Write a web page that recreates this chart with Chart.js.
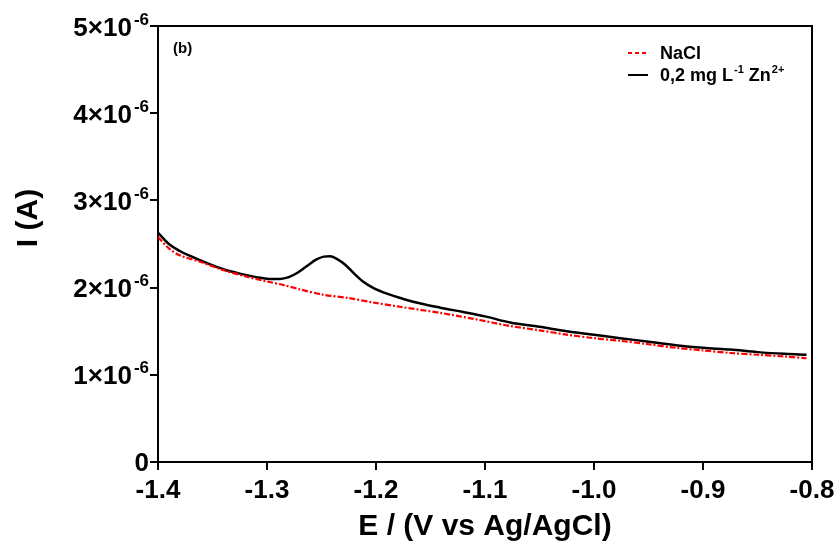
<!DOCTYPE html>
<html><head><meta charset="utf-8">
<script src="https://cdn.jsdelivr.net/npm/chart.js@4.4.1/dist/chart.umd.min.js"></script>
<style>html,body{margin:0;padding:0;background:#fff}#wrap{width:840px;height:542px}</style>
</head><body><div id="wrap"><canvas id="c" width="840" height="542"></canvas></div>
<script>
// Potential (V vs Ag/AgCl) and current (A)
const potentialNaCl = [-1.400,-1.390,-1.380,-1.360,-1.340,-1.320,-1.300,-1.285,-1.270,-1.249,-1.225,-1.203,-1.178,-1.141,-1.110,-1.077,-1.050,-1.025,-1.000,-0.976,-0.950,-0.925,-0.900,-0.875,-0.850,-0.825,-0.805];
const currentNaCl = [2.58e-6,2.45e-6,2.37e-6,2.29e-6,2.20e-6,2.13e-6,2.07e-6,2.03e-6,1.98e-6,1.92e-6,1.88e-6,1.83e-6,1.78e-6,1.71e-6,1.64e-6,1.56e-6,1.51e-6,1.46e-6,1.42e-6,1.39e-6,1.35e-6,1.31e-6,1.28e-6,1.25e-6,1.23e-6,1.21e-6,1.19e-6];
const potentialZn = [-1.400,-1.390,-1.380,-1.370,-1.355,-1.340,-1.325,-1.310,-1.298,-1.288,-1.280,-1.272,-1.263,-1.255,-1.248,-1.242,-1.236,-1.228,-1.220,-1.212,-1.203,-1.190,-1.175,-1.160,-1.141,-1.120,-1.100,-1.077,-1.050,-1.025,-1.000,-0.976,-0.950,-0.925,-0.900,-0.875,-0.850,-0.825,-0.805];
const currentZn = [2.63e-6,2.50e-6,2.42e-6,2.36e-6,2.28e-6,2.21e-6,2.16e-6,2.12e-6,2.10e-6,2.10e-6,2.12e-6,2.17e-6,2.25e-6,2.32e-6,2.355e-6,2.36e-6,2.33e-6,2.26e-6,2.16e-6,2.07e-6,2.00e-6,1.93e-6,1.87e-6,1.82e-6,1.77e-6,1.72e-6,1.67e-6,1.60e-6,1.55e-6,1.50e-6,1.46e-6,1.42e-6,1.38e-6,1.34e-6,1.31e-6,1.29e-6,1.26e-6,1.24e-6,1.23e-6];
const xTickValues = [-1.4,-1.3,-1.2,-1.1,-1.0,-0.9,-0.8];
const yTickMantissa = [0,1,2,3,4,5];
const yTickExponent = '-6';
const seriesNames = ['NaCl', '0,2 mg L'];
const panelLabel = '(b)';
const xTitle = 'E / (V vs Ag/AgCl)';
const yTitle = 'I (A)';

const FONT = "'Liberation Sans', Arial, Helvetica, sans-serif";
const toPts = (xs, ys) => xs.map((x, i) => ({x: x, y: ys[i]}));

const decor = {
  id: 'decor',
  afterDraw(chart) {
    const ctx = chart.ctx, a = chart.chartArea;
    const ys = chart.scales.y;
    ctx.save();
    // frame top & right
    ctx.strokeStyle = '#000'; ctx.lineWidth = 2;
    ctx.beginPath();
    ctx.moveTo(a.left - 1, a.top); ctx.lineTo(a.right, a.top); ctx.lineTo(a.right, a.bottom + 1);
    ctx.stroke();
    ctx.fillStyle = '#000';
    // y tick labels with superscript
    yTickMantissa.forEach(m => {
      const py = ys.getPixelForValue(m * 1e-6);
      const rightX = a.left - 9;
      if (m === 0) {
        ctx.font = 'bold 26px ' + FONT; ctx.textAlign = 'right'; ctx.textBaseline = 'alphabetic';
        ctx.fillText('0', rightX, py + 9);
        return;
      }
      ctx.font = 'bold 17px ' + FONT;
      const supW = ctx.measureText(yTickExponent).width;
      ctx.textAlign = 'right'; ctx.textBaseline = 'alphabetic';
      ctx.fillText(yTickExponent, rightX, py - 1.5);
      ctx.font = 'bold 26px ' + FONT;
      ctx.fillText(m + '\u00D710', rightX - supW - 2, py + 9.5);
    });
    // y title
    ctx.save();
    ctx.font = 'bold 30px ' + FONT; ctx.textAlign = 'center'; ctx.textBaseline = 'alphabetic';
    ctx.translate(37, 218); ctx.rotate(-Math.PI / 2);
    ctx.fillText(yTitle, 0, 0);
    ctx.restore();
    // x title
    ctx.font = 'bold 30px ' + FONT; ctx.textAlign = 'center'; ctx.textBaseline = 'alphabetic';
    ctx.fillText(xTitle, (a.left + a.right) / 2, 535);
    // panel label
    ctx.font = 'bold 15px ' + FONT; ctx.textAlign = 'left';
    ctx.fillText(panelLabel, a.left + 15, 53);
    // legend
    const ds = chart.data.datasets;
    const lx0 = 628, lx1 = 648, tx = 660;
    [53, 75].forEach((ly, i) => {
      const d = ds[i];
      ctx.save();
      ctx.strokeStyle = d.borderColor; ctx.lineWidth = 2;
      ctx.setLineDash(i === 0 ? [4, 3] : []);
      ctx.beginPath(); ctx.moveTo(lx0, ly); ctx.lineTo(lx1, ly); ctx.stroke();
      ctx.restore();
      ctx.textAlign = 'left'; ctx.textBaseline = 'alphabetic';
      ctx.font = 'bold 18px ' + FONT;
      let x = tx;
      const base = ly + 6;
      if (i === 0) {
        ctx.fillText(d.label, x, base);
      } else {
        ctx.fillText('0,2 mg L', x, base); x += ctx.measureText('0,2 mg L').width + 1;
        ctx.font = 'bold 11px ' + FONT;
        ctx.fillText('-1', x, base - 8); x += ctx.measureText('-1').width;
        ctx.font = 'bold 18px ' + FONT;
        ctx.fillText(' Zn', x, base); x += ctx.measureText(' Zn').width + 1;
        ctx.font = 'bold 11px ' + FONT;
        ctx.fillText('2+', x, base - 8);
      }
    });
    ctx.restore();
  }
};

new Chart(document.getElementById('c'), {
  type: 'line',
  data: {
    datasets: [
      { label: seriesNames[0], data: toPts(potentialNaCl, currentNaCl), borderColor: '#ff0000', borderWidth: 2.2,
        borderDash: [6, 2, 2, 2], pointRadius: 0, tension: 0.3, fill: false },
      { label: seriesNames[1], data: toPts(potentialZn, currentZn), borderColor: '#000000', borderWidth: 2.5,
        pointRadius: 0, cubicInterpolationMode: 'monotone', fill: false }
    ]
  },
  options: {
    responsive: false, animation: false, devicePixelRatio: 1,
    layout: { padding: { left: 0, right: 28, top: 26, bottom: 0 } },
    plugins: { legend: { display: false }, tooltip: { enabled: false } },
    scales: {
      x: {
        type: 'linear', min: -1.4, max: -0.8,
        afterBuildTicks: s => { s.ticks = xTickValues.map(v => ({value: v})); },
        afterFit: s => { s.height = 80; },
        border: { color: '#000', width: 2 },
        grid: { drawOnChartArea: false, drawTicks: true, tickLength: 8, color: '#000', lineWidth: 2 },
        ticks: { color: '#000', font: { family: FONT, size: 26, weight: 'bold' }, padding: 5, maxRotation: 0,
                 autoSkip: false, callback: v => Number(v).toFixed(1) }
      },
      y: {
        type: 'linear', min: 0, max: 5e-6,
        afterBuildTicks: s => { s.ticks = yTickMantissa.map(m => ({value: m * 1e-6})); },
        afterFit: s => { s.width = 158; },
        border: { color: '#000', width: 2 },
        grid: { drawOnChartArea: false, drawTicks: true, tickLength: 8, color: '#000', lineWidth: 2 },
        ticks: { display: false }
      }
    }
  },
  plugins: [decor]
});
</script></body></html>
